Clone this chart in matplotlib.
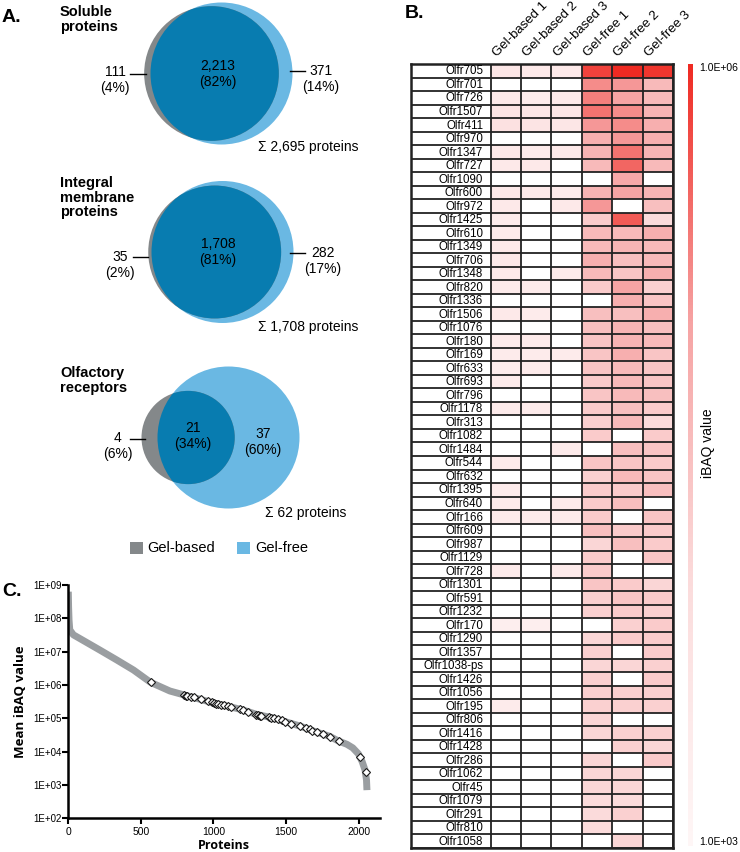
import math
import matplotlib
matplotlib.use('Agg')
import matplotlib.pyplot as plt
import matplotlib.cm as cm
import numpy as np
from matplotlib.patches import Circle, Rectangle
from matplotlib.colors import LinearSegmentedColormap, LogNorm, Normalize
from matplotlib.ticker import NullLocator

plt.rcParams['font.family'] = ['Liberation Sans', 'DejaVu Sans']

# ---- Panel A: Venn counts ----
venn_titles = ['Soluble\nproteins', 'Integral\nmembrane\nproteins', 'Olfactory\nreceptors']
gel_based_only = [111, 35, 4]
shared = [2213, 1708, 21]
gel_free_only = [371, 282, 37]
based_pct = ['4%', '2%', '6%']
shared_pct = ['82%', '81%', '34%']
free_pct = ['14%', '17%', '60%']
totals = ['2,695', '1,708', '62']

# ---- Panel B: log10 iBAQ per olfactory receptor (nan = not detected) ----
samples = ['Gel-based 1', 'Gel-based 2', 'Gel-based 3', 'Gel-free 1', 'Gel-free 2', 'Gel-free 3']
receptors = ['Olfr705', 'Olfr701', 'Olfr726', 'Olfr1507', 'Olfr411', 'Olfr970', 'Olfr1347',
             'Olfr727', 'Olfr1090', 'Olfr600', 'Olfr972', 'Olfr1425', 'Olfr610', 'Olfr1349',
             'Olfr706', 'Olfr1348', 'Olfr820', 'Olfr1336', 'Olfr1506', 'Olfr1076', 'Olfr180',
             'Olfr169', 'Olfr633', 'Olfr693', 'Olfr796', 'Olfr1178', 'Olfr313', 'Olfr1082',
             'Olfr1484', 'Olfr544', 'Olfr632', 'Olfr1395', 'Olfr640', 'Olfr166', 'Olfr609',
             'Olfr987', 'Olfr1129', 'Olfr728', 'Olfr1301', 'Olfr591', 'Olfr1232', 'Olfr170',
             'Olfr1290', 'Olfr1357', 'Olfr1038-ps', 'Olfr1426', 'Olfr1056', 'Olfr195', 'Olfr806',
             'Olfr1416', 'Olfr1428', 'Olfr286', 'Olfr1062', 'Olfr45', 'Olfr1079', 'Olfr291',
             'Olfr810', 'Olfr1058']
n = np.nan
gel_based_1 = [3.6, n, 3.5, 3.7, 3.8, n, 3.5, 3.5, n, 3.5, 3.5, 3.4, 3.4, 3.5, 3.5, 3.5, 3.4, n, 3.5,
               n, 3.4, 3.4, 3.4, 3.4, n, 3.4, n, n, n, 3.4, n, 3.4, 3.4, 3.4, n, n, n, 3.4, n, n, n,
               3.3, n, n, n, n, n, 3.4, n, n, n, n, n, n, n, n, n, n]
gel_based_2 = [3.5, n, 3.4, 3.6, 3.7, n, 3.4, 3.5, n, 3.5, n, n, n, n, n, n, 3.4, n, 3.4,
               n, 3.4, 3.4, 3.4, n, n, 3.4, n, n, n, n, n, n, n, 3.4, n, n, n, n, n, n, n,
               3.3, n, n, n, n, n, n, n, n, n, n, n, n, n, n, n, n]
gel_based_3 = [3.5, n, 3.5, 3.6, 3.6, n, 3.5, n, n, 3.4, 3.5, n, n, n, n, 3.4, n, n, n,
               n, n, 3.4, n, n, n, n, n, n, 3.4, n, n, n, 3.4, 3.4, n, n, n, 3.4, n, n, n,
               n, n, n, n, n, n, n, n, n, n, n, n, n, n, n, n, n]
gel_free_1 = [5.8, 5.2, 5.3, 5.4, 5.1, 4.8, 4.7, 4.6, n, 4.7, 5.1, 4.3, 4.6, 4.6, 4.8, 4.6, 4.3, n,
              4.5, 4.5, 4.4, 4.4, 4.4, 4.3, 4.4, 4.3, 4.2, 4.3, n, 4.4, 4.2, 4.3, 4.3, 4.3, 4.5,
              4.1, 4.3, 4.3, 4.4, 4.2, 4.2, n, 4.1, 4.2, 4.1, 4.2, 4.2, 4.2, 4.1, 4.1, n, 4.1,
              4.1, 4.1, 4.0, 4.0, 4.0, n]
gel_free_2 = [6.0, 5.1, 5.0, 5.2, 5.2, 5.1, 5.4, 5.5, 4.9, 5.0, n, 5.6, 4.6, 4.7, 4.5, 4.4, 5.0, 4.8,
              4.5, 4.7, 4.7, 4.8, 4.6, 4.6, 4.6, 4.5, 4.6, n, 4.5, 4.4, 4.6, 4.3, 4.5, n, 4.3,
              4.5, n, n, 4.3, 4.4, 4.3, 4.2, 4.3, n, 4.1, n, 4.2, 4.2, n, 4.2, 4.2, n,
              4.1, 4.1, 4.0, 4.2, n, 4.1]
gel_free_3 = [5.9, 4.6, 4.6, 4.7, 4.8, 4.8, 4.7, 4.6, n, 4.7, 4.5, 4.0, 4.8, 4.6, 4.6, 4.8, 4.2, 4.4,
              4.8, 4.5, 4.6, 4.4, 4.4, 4.4, 4.5, 4.3, 4.0, 4.3, 4.4, 4.3, 4.4, 4.5, n, 4.4, 4.3,
              4.3, 4.4, n, 4.1, 4.3, 4.2, 4.3, 4.3, 4.3, 4.2, 4.3, 4.2, 4.2, n, 4.2, 4.1, 4.3,
              n, n, n, n, n, n]

# ---- Panel C: ranked mean iBAQ curve and olfactory receptors on it ----
curve_rank = [0, 2, 5, 10, 35, 100, 220, 335, 450, 567, 700, 800, 900, 1000, 1100, 1200, 1300,
              1400, 1500, 1600, 1700, 1800, 1860, 1920, 1960, 2000, 2025, 2045, 2055, 2058]
curve_ibaq = [6.3e8, 2.2e8, 8.9e7, 4.5e7, 3.2e7, 2.2e7, 1.1e7, 5.6e6, 2.8e6, 1.2e6, 6.6e5, 5.0e5,
              3.8e5, 2.9e5, 2.3e5, 1.8e5, 1.3e5, 1.05e5, 7.8e4, 5.8e4, 4.0e4, 2.9e4, 2.1e4,
              1.66e4, 1.3e4, 8.5e3, 5.0e3, 2.8e3, 1.4e3, 7.0e2]
or_rank = [571, 798, 810, 821, 845, 867, 914, 960, 990, 1006, 1020, 1029, 1055, 1076, 1100, 1122,
           1180, 1203, 1237, 1295, 1307, 1320, 1330, 1380, 1399, 1420, 1445, 1470, 1492, 1538,
           1595, 1640, 1665, 1680, 1711, 1757, 1804, 1862, 2012, 2054]
or_ibaq = [1.2e6, 5.0e5, 4.8e5, 4.7e5, 4.4e5, 4.3e5, 3.8e5, 3.4e5, 3.0e5, 2.85e5, 2.75e5, 2.7e5,
           2.5e5, 2.45e5, 2.3e5, 2.2e5, 1.85e5, 1.8e5, 1.6e5, 1.3e5, 1.26e5, 1.2e5, 1.17e5,
           1.08e5, 1.05e5, 1.0e5, 9.3e4, 8.8e4, 8.0e4, 6.8e4, 5.9e4, 5.0e4, 4.7e4, 4.3e4,
           3.8e4, 3.3e4, 2.8e4, 2.1e4, 6.8e3, 2.5e3]

GREY = '#84888a'
LIGHT = '#6ab8e3'
DARK = '#087cb0'


def lens_area(r1, r2, d):
    if d >= r1 + r2:
        return 0.0
    if d <= abs(r1 - r2):
        return math.pi * min(r1, r2) ** 2
    a1 = r1 ** 2 * math.acos((d * d + r1 * r1 - r2 * r2) / (2 * d * r1))
    a2 = r2 ** 2 * math.acos((d * d + r2 * r2 - r1 * r1) / (2 * d * r2))
    k = 0.5 * math.sqrt((-d + r1 + r2) * (d + r1 - r2) * (d - r1 + r2) * (d + r1 + r2))
    return a1 + a2 - k


def center_distance(r1, r2, area):
    lo, hi = abs(r1 - r2) + 1e-6, r1 + r2
    for _ in range(60):
        mid = 0.5 * (lo + hi)
        if lens_area(r1, r2, mid) > area:
            lo = mid
        else:
            hi = mid
    return 0.5 * (lo + hi)


fig = plt.figure(figsize=(7.4, 8.52), dpi=100)

# overlay axes in pixel coordinates for panel A and labels
ax0 = fig.add_axes([0, 0, 1, 1])
ax0.set_xlim(0, 740)
ax0.set_ylim(852, 0)
ax0.axis('off')

# layout of each venn (pixels)
free_centers = [(221.5, 73.5), (222.5, 252), (228.5, 437.5)]
R = 71.0
title_y = [5, 176, 366]
mid_xy = [(218, 74), (218, 252), (193, 436)]
left_xy = [(115, 80), (120, 265), (118, 446)]
left_line = [(130, 146, 74), (133, 148, 257), (130, 145, 439)]
right_xy = [(321, 79), (323, 261), (263, 442)]
right_line = [(290, 305, 71), (290, 305, 253), None]
sum_xy = [(258, 147), (258, 327), (265, 513)]

for i in range(3):
    nb = gel_based_only[i] + shared[i]
    nf = gel_free_only[i] + shared[i]
    r_b = R * math.sqrt(nb / nf)
    area = shared[i] / nf * math.pi * R ** 2
    d = center_distance(r_b, R, area)
    cx, cy = free_centers[i]
    free_c = Circle((cx, cy), R, color=LIGHT, lw=0, zorder=1)
    ax0.add_patch(free_c)
    ax0.add_patch(Circle((cx - d, cy), r_b, color=GREY, lw=0, zorder=2))
    dark = Circle((cx - d, cy), r_b, color=DARK, lw=0, zorder=3)
    ax0.add_patch(dark)
    dark.set_clip_path(free_c)

    ax0.text(60, title_y[i], venn_titles[i], fontsize=10.5, fontweight='bold',
             va='top', ha='left', linespacing=1.05)
    ax0.text(*mid_xy[i], f'{shared[i]:,}\n({shared_pct[i]})', fontsize=10,
             ha='center', va='center', zorder=5, linespacing=1.15)
    ax0.text(*left_xy[i], f'{gel_based_only[i]:,}\n({based_pct[i]})', fontsize=10,
             ha='center', va='center', zorder=5, linespacing=1.15)
    x0, x1, yl = left_line[i]
    ax0.plot([x0, x1], [yl, yl], color='black', lw=1, zorder=5)
    ax0.text(*right_xy[i], f'{gel_free_only[i]:,}\n({free_pct[i]})', fontsize=10,
             ha='center', va='center', zorder=5, linespacing=1.15)
    if right_line[i] is not None:
        x0, x1, yl = right_line[i]
        ax0.plot([x0, x1], [yl, yl], color='black', lw=1, zorder=5)
    ax0.text(*sum_xy[i], '\u03a3 ' + totals[i] + ' proteins', fontsize=10,
             ha='left', va='center')

# legend
ax0.add_patch(Rectangle((130, 542), 13, 12, color=GREY, lw=0))
ax0.text(147, 548, 'Gel-based', fontsize=10.5, va='center')
ax0.add_patch(Rectangle((237, 542), 13, 12, color=LIGHT, lw=0))
ax0.text(255, 548, 'Gel-free', fontsize=10.5, va='center')

ax0.text(2, 17, 'A.', fontsize=14, fontweight='bold', va='center')
ax0.text(405, 14, 'B.', fontsize=14, fontweight='bold', va='center')
ax0.text(2, 592, 'C.', fontsize=14, fontweight='bold', va='center')

# ---- Panel B heatmap ----
cmap = LinearSegmentedColormap.from_list(
    'ibaq', [(0, '#fef6f6'), (0.33, '#fbdcdc'), (0.67, '#f6a3a3'), (1.0, '#ef2a22')])
cmap.set_bad('white')
data = np.array([gel_based_1, gel_based_2, gel_based_3, gel_free_1, gel_free_2, gel_free_3]).T
nrow = len(receptors)
lab_w = 2.62

axh = fig.add_axes([411 / 740, 4 / 852, 262 / 740, 784 / 852])
axh.pcolormesh(np.arange(7), np.arange(nrow + 1), np.ma.masked_invalid(data),
               cmap=cmap, norm=Normalize(3, 6))
axh.set_xlim(-lab_w, 6)
axh.set_ylim(nrow, 0)
axh.hlines(np.arange(nrow + 1), -lab_w, 6, color='#222222', lw=1.3)
axh.vlines(np.arange(7), 0, nrow, color='#222222', lw=1.3)
for s in axh.spines.values():
    s.set_linewidth(1.8)
    s.set_color('#222222')
axh.set_xticks([])
axh.set_yticks([])
for j, name in enumerate(receptors):
    axh.text(-0.25, j + 0.55, name, fontsize=8.3, ha='right', va='center')
for k, s in enumerate(samples):
    axh.text(k + 0.2, -0.55, s, fontsize=9.5, rotation=45, rotation_mode='anchor',
             ha='left', va='baseline', clip_on=False)

cax = fig.add_axes([688 / 740, 6 / 852, 5 / 740, 782 / 852])
cb = fig.colorbar(cm.ScalarMappable(norm=LogNorm(1e3, 1e6), cmap=cmap), cax=cax)
cb.outline.set_visible(False)
cb.set_ticks([])
cax.yaxis.set_minor_locator(NullLocator())
ax0.text(699, 68, '1.0E+06', fontsize=7.5, va='center')
ax0.text(699, 842, '1.0E+03', fontsize=7.5, va='center')
ax0.text(708, 443, 'iBAQ value', fontsize=10, rotation=90, ha='center', va='center')

# ---- Panel C ----
axc = fig.add_axes([68.3 / 740, 33.7 / 852, 312 / 740, 233.3 / 852])
axc.plot(curve_rank, curve_ibaq, color='#9a9ea1', lw=5, solid_capstyle='butt')
axc.plot(or_rank, or_ibaq, 'D', ms=4.2, mfc='white', mec='#1a1a1a', mew=0.8, ls='none')
axc.set_yscale('log')
axc.set_ylim(1e2, 1e9)
axc.set_xlim(0, 2150)
yt = [1e2, 1e3, 1e4, 1e5, 1e6, 1e7, 1e8, 1e9]
axc.set_yticks(yt)
axc.set_yticklabels([f'1E+0{int(round(math.log10(v)))}' for v in yt])
axc.yaxis.set_minor_locator(NullLocator())
axc.set_xticks([0, 500, 1000, 1500, 2000])
axc.tick_params(axis='y', labelsize=7, length=4, width=1.5, pad=1)
axc.tick_params(axis='x', labelsize=7.5, length=4, width=1.5, pad=2)
for side in ['top', 'right']:
    axc.spines[side].set_visible(False)
for side in ['left', 'bottom']:
    axc.spines[side].set_linewidth(1.8)
axc.set_ylabel('Mean iBAQ value', fontsize=9.5, fontweight='bold', family='Open Sans', labelpad=4)
axc.set_xlabel('Proteins', fontsize=9, fontweight='bold', family='Open Sans', labelpad=2)
axc.patch.set_alpha(0)

fig.savefig('out.png', dpi=100)
